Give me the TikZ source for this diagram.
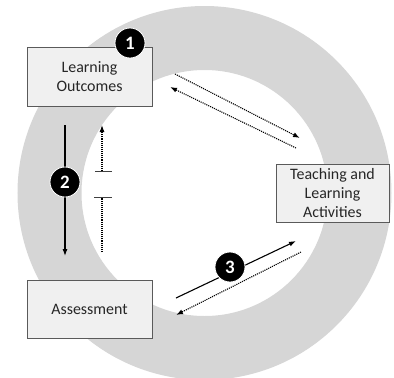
\documentclass[tikz,border=0pt]{standalone}
\usepackage{fontspec}
\setmainfont{Carlito}
\usetikzlibrary{arrows.meta}
\definecolor{ringgray}{HTML}{D6D6D6}
\definecolor{boxfill}{HTML}{F0F0F0}
\definecolor{boxdraw}{HTML}{5A5A5A}
\definecolor{textgray}{HTML}{262626}
\begin{document}
\begin{tikzpicture}[x=1bp,y=-1bp,
  box/.style={draw=boxdraw, fill=boxfill, line width=0.9bp, align=center,
    inner sep=0pt, text=textgray, font=\fontsize{16}{19.5}\selectfont},
  badge/.style={circle, fill=black, draw=white, line width=0.8bp, minimum size=30bp,
    inner sep=0pt, text=white, font=\fontsize{19}{19}\selectfont\bfseries},
  solidarrow/.style={line width=1.1bp, -{Latex[length=7bp,width=5bp]}},
  dotarrow/.style={line width=1.1bp, densely dotted, -{Latex[length=7bp,width=5bp]}},
  dotline/.style={line width=1.1bp, densely dotted},
  barline/.style={line width=1bp, draw=black!75}
]
\useasboundingbox (0,0) rectangle (394,378);
% ring
\fill[ringgray, even odd rule] (204.5,193) circle[radius=187bp] (204.5,193) circle[radius=123bp];
% boxes
\node[box, minimum width=125bp, minimum height=59bp] (lo) at (89.5,76.5) {Learning\\Outcomes};
\node[box, minimum width=113bp, minimum height=58bp] (tla) at (332.5,193) {Teaching and\\Learning\\Activities};
\node[box, minimum width=125bp, minimum height=58bp] (as) at (89.5,309) {Assessment};
% coordinates
\coordinate (a2s) at (65,125);
\coordinate (a2e) at (65,256);
\coordinate (d2s) at (102,252);
\coordinate (d2b) at (102,197);
\coordinate (d2t) at (102,171);
\coordinate (d2e) at (102,125);
\coordinate (b1l) at (94,197); \coordinate (b1r) at (112,197);
\coordinate (b2l) at (95,171); \coordinate (b2r) at (112,171);
\coordinate (t1s) at (175,74);
\coordinate (t1e) at (300,138);
\coordinate (t2s) at (296,148);
\coordinate (t2e) at (170,87);
\coordinate (s3s) at (176,298);
\coordinate (s3e) at (296,241);
\coordinate (d3s) at (301,252);
\coordinate (d3e) at (176,315);
% arrows
\draw[solidarrow] (a2s) -- (a2e);
\draw[dotline] (d2s) -- (d2b);
\draw[barline] (b1l) -- (b1r);
\draw[barline] (b2l) -- (b2r);
\draw[dotarrow] (d2t) -- (d2e);
\draw[dotarrow] (t1s) -- (t1e);
\draw[dotarrow] (t2s) -- (t2e);
\draw[solidarrow] (s3s) -- (s3e);
\draw[dotarrow] (d3s) -- (d3e);
% badges
\node[badge] (n1) at (130,43) {1};
\node[badge] (n2) at (65,182) {2};
\node[badge] (n3) at (230,267) {3};
\end{tikzpicture}
\end{document}
